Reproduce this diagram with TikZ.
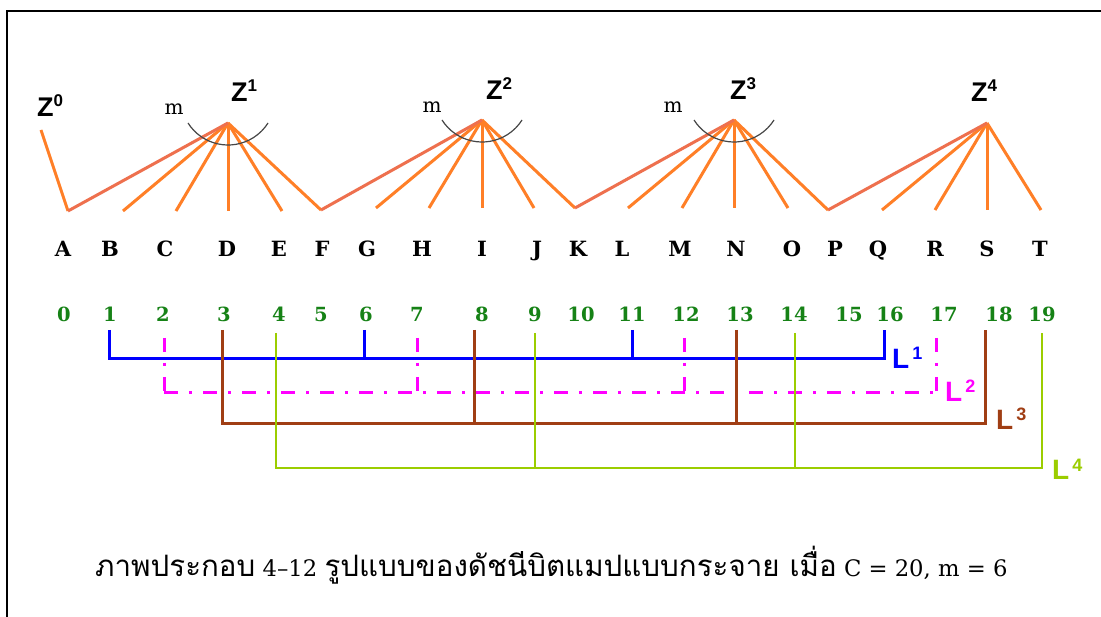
\documentclass[tikz,border=0pt]{standalone}
\usepackage{fontspec}
\newfontfamily\thaifont[Script=Thai,Scale=1.3]{Loma}
\newfontfamily\lsans{Liberation Sans}
\newfontfamily\dserif{DejaVu Serif}

\definecolor{fanorange}{RGB}{255,127,39}
\definecolor{fansalmon}{RGB}{238,112,78}
\definecolor{numgreen}{RGB}{22,130,22}
\definecolor{lblue}{RGB}{0,0,255}
\definecolor{lmagenta}{RGB}{255,0,255}
\definecolor{lbrown}{RGB}{160,62,20}
\definecolor{llime}{RGB}{155,205,0}
\definecolor{arcgray}{RGB}{70,70,70}

\tikzset{
  fan/.style={draw=fanorange, line width=3pt},
  fanlink/.style={draw=fansalmon, line width=3pt},
  marc/.style={draw=arcgray, line width=1.2pt},
  letter/.style={anchor=base, inner sep=0pt, font=\dserif\bfseries\fontsize{21}{21}\selectfont},
  num/.style={anchor=base, inner sep=0pt, text=numgreen, font=\dserif\bfseries\fontsize{19.5}{19.5}\selectfont},
  zlab/.style={anchor=base west, inner sep=0pt, font=\lsans\bfseries\fontsize{27}{27}\selectfont},
  mlab/.style={anchor=base, inner sep=0pt, font=\dserif\fontsize{20}{20}\selectfont},
  llab/.style={anchor=base west, inner sep=0pt, font=\lsans\bfseries\fontsize{28}{28}\selectfont},
  blueL/.style={draw=lblue, line width=3pt},
  magL/.style={draw=lmagenta, line width=3pt, dash pattern=on 14pt off 11pt on 3pt off 11pt},
  brownL/.style={draw=lbrown, line width=3pt},
  limeL/.style={draw=llime, line width=2.6pt},
}
\newcommand{\zsup}[1]{Z\raisebox{10.5pt}{\fontsize{17}{17}\selectfont #1}}
\newcommand{\lsup}[1]{L\hspace{3pt}\raisebox{9pt}{\fontsize{18}{18}\selectfont #1}}

\begin{document}
\begin{tikzpicture}[x=1pt, y=-1pt]
\useasboundingbox (0,0) rectangle (1101,617);
\fill[white] (0,0) rectangle (1101,617);

% frame
\draw[line width=2pt] (7,617) -- (7,11) -- (1101,11);

% apex points of the fans and the free end of Z0
\coordinate (z0) at (41,130);
\coordinate (z1) at (228,123);
\coordinate (z2) at (482,120);
\coordinate (z3) at (734,120);
\coordinate (z4) at (987,123);

% lower ends of the fan lines
\foreach \n/\x/\y in {A/68/211, B/123/211, C/176/211, D/228/211, E/282/211,
  F/321/210, G/376/208, H/429/208, I/482/208, J/534/208, K/575/208,
  L/628/208, M/682/208, N/734/208, O/788/208, P/828/210, Q/882/210,
  R/935/210, S/987/210, T/1041/210}
  \coordinate (b\n) at (\x,\y);

% fans
\draw[fan] (z0) -- (bA);
\foreach \n in {B,C,D,E,F} \draw[fan] (z1) -- (b\n);
\foreach \n in {G,H,I,J,K} \draw[fan] (z2) -- (b\n);
\foreach \n in {L,M,N,O,P} \draw[fan] (z3) -- (b\n);
\foreach \n in {Q,R,S,T} \draw[fan] (z4) -- (b\n);
\draw[fanlink] (z1) -- (bA);
\draw[fanlink] (z2) -- (bF);
\draw[fanlink] (z3) -- (bK);
\draw[fanlink] (z4) -- (bP);

% angle arcs marked m
\foreach \k in {1,2,3}
  \draw[marc] (z\k) ++(-40,0) arc[start angle=147.6, end angle=32.4, radius=47.4];
\node[mlab] (m1) at (174,115) {m};
\node[mlab] (m2) at (432,113) {m};
\node[mlab] (m3) at (673,113) {m};

% Z labels
\node[zlab] (Z0) at (37,117) {\zsup{0}};
\node[zlab] (Z1) at (231,102) {\zsup{1}};
\node[zlab] (Z2) at (486,100) {\zsup{2}};
\node[zlab] (Z3) at (730,100) {\zsup{3}};
\node[zlab] (Z4) at (971,102) {\zsup{4}};

% letters
\foreach \n/\x in {A/63, B/110, C/165, D/227, E/279, F/322, G/367, H/422,
  I/482, J/537, K/578, L/622, M/680, N/736, O/792, P/835, Q/878, R/935,
  S/987, T/1040}
  \node[letter] (t\n) at (\x,257) {\n};

% bit numbers
\foreach \i/\x in {0/64, 1/110, 2/163, 3/224, 4/279, 5/321, 6/366, 7/417,
  8/482, 9/535, 10/581, 11/632, 12/686, 13/740, 14/794, 15/849, 16/890,
  17/944, 18/999, 19/1042}
  \node[num] (n\i) at (\x,322) {\i};

% L1 (blue)
\foreach \i/\x in {1/109, 6/364, 11/632, 16/884} {
  \coordinate (a\i) at (\x,330);
  \coordinate (ac\i) at (\x,359);
}
\draw[blueL] (a1) -- (ac1) -- (ac16) -- (a16);
\foreach \i in {6,11} \draw[blueL] (a\i) -- (ac\i);
\node[llab, text=lblue] (L1) at (892,369) {\lsup{1}};

% L2 (magenta, dash-dot)
\foreach \i/\x in {2/164, 7/417, 12/684, 17/936} {
  \coordinate (p\i) at (\x,338);
  \coordinate (pc\i) at (\x,393);
}
\foreach \i in {2,7,12,17} \draw[magL] (p\i) -- (pc\i);
\draw[magL] (pc2) -- (pc17);
\node[llab, text=lmagenta] (L2) at (945,402) {\lsup{2}};

% L3 (brown)
\foreach \i/\x in {3/222, 8/474, 13/736, 18/985} {
  \coordinate (r\i) at (\x,330);
  \coordinate (rc\i) at (\x,424);
}
\draw[brownL] (r3) -- (rc3) -- (rc18) -- (r18);
\foreach \i in {8,13} \draw[brownL] (r\i) -- (rc\i);
\node[llab, text=lbrown] (L3) at (996,430) {\lsup{3}};

% L4 (lime)
\foreach \i/\x in {4/276, 9/535, 14/795, 19/1042} {
  \coordinate (g\i) at (\x,333);
  \coordinate (gc\i) at (\x,468);
}
\draw[limeL] (g4) -- (gc4) -- (gc19) -- (g19);
\foreach \i in {9,14} \draw[limeL] (g\i) -- (gc\i);
\node[llab, text=llime] (L4) at (1052,480) {\lsup{4}};

% caption
\node[anchor=base west, inner sep=0pt, font=\dserif\fontsize{22.7}{28}\selectfont] (cap) at (95,576)
  {{\thaifont ภาพประกอบ} 4–12 {\thaifont รูปแบบของดัชนีบิตแมปแบบกระจาย เมื่อ} C = 20, m = 6};
\end{tikzpicture}
\end{document}
